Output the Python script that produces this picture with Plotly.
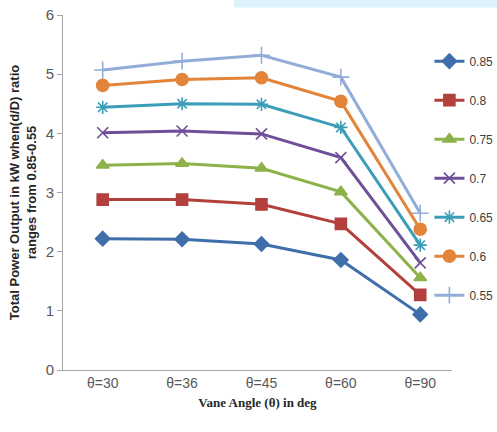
import plotly.graph_objects as go

angles = ["θ=30", "θ=36", "θ=45", "θ=60", "θ=90"]
ratios = ["0.85", "0.8", "0.75", "0.7", "0.65", "0.6", "0.55"]

p085 = [2.22, 2.21, 2.13, 1.86, 0.94]
p080 = [2.88, 2.88, 2.80, 2.47, 1.27]
p075 = [3.46, 3.49, 3.41, 3.01, 1.56]
p070 = [4.01, 4.04, 3.99, 3.59, 1.81]
p065 = [4.44, 4.50, 4.49, 4.10, 2.11]
p060 = [4.81, 4.91, 4.94, 4.54, 2.38]
p055 = [5.07, 5.22, 5.32, 4.95, 2.65]

series = [p085, p080, p075, p070, p065, p060, p055]
colors = ["#3F6EAA", "#B3403D", "#8DB24B", "#6F4F98", "#3C9DB8", "#E2843A", "#93ADD8"]
symbols = ["diamond", "square", "triangle-up", "x-thin-open", "asterisk-open", "circle", "cross-thin-open"]
sizes = [11, 11, 11, 11, 11, 12, 12]

fig = go.Figure()
for name, vals, c, s, sz in zip(ratios, series, colors, symbols, sizes):
    fig.add_trace(go.Scatter(
        x=angles, y=vals, name=name, mode="lines+markers",
        legendgroup=name,
        line=dict(color=c, width=3),
        marker=dict(symbol=s, size=sz, color=c, line=dict(color=c, width=1.6)),
    ))

fig.update_layout(
    width=497, height=432,
    margin=dict(l=63, r=45, t=15, b=62, autoexpand=False),
    paper_bgcolor="white", plot_bgcolor="white",
    font=dict(family="Liberation Sans Narrow, Liberation Sans, sans-serif", color="#595959"),
    showlegend=True,
    legend=dict(xref="container", yref="container",
                x=0.864, xanchor="left", y=0.892, yanchor="top",
                font=dict(size=12, color="#404040"),
                tracegroupgap=20, itemwidth=30, maxheight=400,
                bgcolor="rgba(255,255,255,0)"),
    xaxis=dict(
        type="category", range=[-0.5, 4.4], automargin=False,
        showline=True, linecolor="#A6A6A6", linewidth=1,
        ticks="", showgrid=False, zeroline=False,
        tickfont=dict(size=14, color="#595959"),
        title=dict(text="<b>Vane Angle (θ) in deg</b>",
                   font=dict(family="Liberation Serif, serif", size=13, color="#262626"),
                   standoff=8),
    ),
    yaxis=dict(
        range=[0, 6], dtick=1, automargin=False,
        showline=True, linecolor="#A6A6A6", linewidth=1,
        ticks="outside", ticklen=5, tickcolor="#A6A6A6",
        showgrid=False, zeroline=False,
        tickfont=dict(size=15, color="#595959"),
        title=dict(text="<b>Total Power Output in kW when(d/D) ratio<br>ranges from 0.85-0.55</b>",
                   font=dict(family="Liberation Sans, sans-serif", size=13, color="#262626"),
                   standoff=6),
    ),
)

fig.add_shape(type="rect", xref="paper", yref="paper",
              x0=0.44, x1=1.15, y0=1.021, y1=1.045,
              fillcolor="#DDF2FA", line=dict(width=0), layer="below")

fig.write_html("out.html", config={"displayModeBar": False},
               post_script="document.body.style.margin='0';")
